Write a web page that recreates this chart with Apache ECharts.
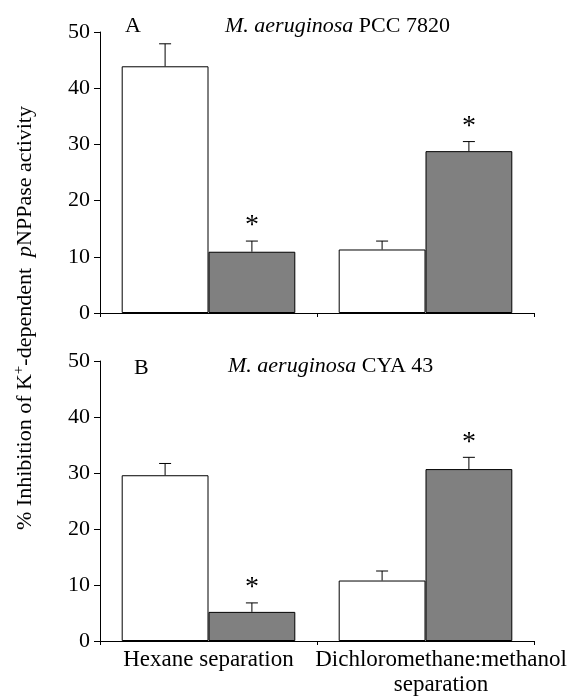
<!DOCTYPE html>
<html>
<head>
<meta charset="utf-8">
<script src="https://cdn.jsdelivr.net/npm/echarts@6/dist/echarts.min.js"></script>
<style>html,body{margin:0;padding:0;background:#fff;}#c{width:580px;height:697px;}</style>
</head>
<body>
<div id="c"></div>
<script>
// ---- data ----
const categories = ['Hexane separation', 'Dichloromethane:methanol\nseparation'];
const yTicks = [0, 10, 20, 30, 40, 50];
// Panel A: M. aeruginosa PCC 7820
const aWhite = [43.9, 11.3];
const aWhiteErr = [4.0, 1.5];
const aGray = [10.9, 28.8];
const aGrayErr = [1.9, 1.7];
const aWhiteSig = [0, 0];
const aGraySig = [1, 1];
// Panel B: M. aeruginosa CYA 43
const bWhite = [29.6, 10.8];
const bWhiteErr = [2.1, 1.7];
const bGray = [5.2, 30.7];
const bGrayErr = [1.6, 2.1];
const bWhiteSig = [0, 0];
const bGraySig = [1, 1];

const FONT = 'Liberation Serif';

function errData(vals, errs, sigs, s) {
  return vals.map((v, i) => [i, v, errs[i], sigs[i], s]);
}

function renderErr(params, api) {
  const cat = api.value(0), val = api.value(1), err = api.value(2), sig = api.value(3), s = api.value(4);
  const band = api.size([1, 0])[0];
  const barW = band * 0.4;
  const base = api.coord([cat, val]);
  const top = api.coord([cat, val + err]);
  const x = base[0] + (s === 0 ? -barW / 2 : barW / 2);
  const children = [
    {type: 'line', shape: {x1: x, y1: base[1], x2: x, y2: top[1]}, style: {stroke: '#000', lineWidth: 1}},
    {type: 'line', shape: {x1: x - 6, y1: top[1], x2: x + 6, y2: top[1]}, style: {stroke: '#000', lineWidth: 1}}
  ];
  if (sig) {
    children.push({type: 'text', x: x, y: top[1] - 15, style: {text: '*', fontFamily: FONT, fontSize: 28, fill: '#000', align: 'center', verticalAlign: 'middle'}});
  }
  return {type: 'group', children: children};
}

const xCats = categories.map((c, i) => i === 1 ? {value: c, textStyle: {padding: [0, 0, 0, 31]}} : c);

function xAxis(gi, showLabels) {
  return {
    type: 'category', gridIndex: gi, data: xCats,
    axisLine: {lineStyle: {color: '#000', width: 1}},
    axisTick: {show: true, length: 4, lineStyle: {color: '#000'}},
    axisLabel: {show: showLabels, color: '#000', fontFamily: FONT, fontSize: 23, lineHeight: 25, margin: 6, interval: 0}
  };
}
function yAxis(gi) {
  return {
    type: 'value', gridIndex: gi, min: yTicks[0], max: yTicks[yTicks.length - 1], interval: 10,
    axisLine: {show: true, lineStyle: {color: '#000', width: 1}},
    axisTick: {show: true, length: 6, lineStyle: {color: '#000'}},
    axisLabel: {color: '#000', fontFamily: FONT, fontSize: 22, margin: 10},
    splitLine: {show: false}
  };
}
function bar(gi, data, color) {
  return {
    type: 'bar', xAxisIndex: gi, yAxisIndex: gi, data: data,
    barGap: '0%', barCategoryGap: '20%',
    itemStyle: {color: color, borderColor: '#000', borderWidth: 1},
    silent: true
  };
}
function errSeries(gi, data) {
  return {type: 'custom', xAxisIndex: gi, yAxisIndex: gi, data: data, renderItem: renderErr, z: 5, silent: true};
}

const richTitle = {
  i: {fontStyle: 'italic', fontFamily: FONT, fontSize: 22, color: '#000'},
  n: {fontFamily: FONT, fontSize: 22, color: '#000'}
};

const option = {
  animation: false,
  backgroundColor: '#fff',
  title: [
    {text: 'A', left: 120, top: 10, textStyle: {fontFamily: FONT, fontSize: 22, fontWeight: 'normal', color: '#000'}},
    {text: '{i|M. aeruginosa}{n| PCC 7820}', left: 220, top: 10, textStyle: {rich: richTitle, fontFamily: FONT, fontSize: 22, fontWeight: 'normal'}},
    {text: 'B', left: 129, top: 352, textStyle: {fontFamily: FONT, fontSize: 22, fontWeight: 'normal', color: '#000'}},
    {text: '{i|M. aeruginosa}{n| CYA 43}', left: 223, top: 350, textStyle: {rich: richTitle, fontFamily: FONT, fontSize: 22, fontWeight: 'normal'}}
  ],
  grid: [
    {left: 100, width: 434, top: 32, height: 281},
    {left: 100, width: 434, top: 361, height: 285}
  ],
  xAxis: [xAxis(0, false), xAxis(1, true)],
  yAxis: [yAxis(0), yAxis(1)],
  series: [
    bar(0, aWhite, '#ffffff'),
    bar(0, aGray, '#808080'),
    errSeries(0, errData(aWhite, aWhiteErr, aWhiteSig, 0).concat(errData(aGray, aGrayErr, aGraySig, 1))),
    bar(1, bWhite, '#ffffff'),
    bar(1, bGray, '#808080'),
    errSeries(1, errData(bWhite, bWhiteErr, bWhiteSig, 0).concat(errData(bGray, bGrayErr, bGraySig, 1)))
  ],
  graphic: [
    {
      type: 'text', x: 25, y: 318, rotation: Math.PI / 2,
      style: {
        text: '% Inhibition of K{sup|+}-dependent  {it|p}NPPase activity',
        fontFamily: FONT, fontSize: 22, fill: '#000', align: 'center', verticalAlign: 'middle', lineHeight: 26,
        rich: {
          sup: {fontSize: 15, fontFamily: FONT, verticalAlign: 'top', lineHeight: 26, fill: '#000'},
          it: {fontStyle: 'italic', fontSize: 22, fontFamily: FONT, fill: '#000'}
        }
      }
    }
  ]
};

const chart = echarts.init(document.getElementById('c'), null, {renderer: 'canvas'});
chart.setOption(option);
</script>
</body>
</html>
